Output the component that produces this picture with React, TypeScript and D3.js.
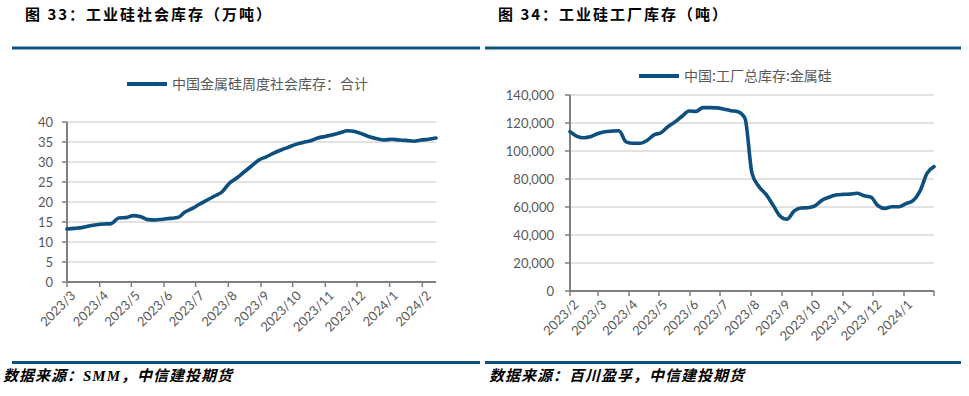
import React from "react";
import * as d3 from "d3";

// 图33 工业硅社会库存（万吨），周度，2023/3/2 起
const socialStart = new Date(2023, 2, 2);
const socialValues = [
  13.25, 13.4, 13.6, 14.0, 14.3, 14.5, 14.6, 16.0, 16.1, 16.6,
  16.3, 15.6, 15.5, 15.7, 15.9, 16.1, 17.5, 18.4, 19.5, 20.5,
  21.5, 22.5, 24.7, 26.0, 27.5, 29.0, 30.5, 31.3, 32.2, 33.0,
  33.7, 34.4, 34.9, 35.3, 36.0, 36.4, 36.8, 37.3, 37.8, 37.6,
  37.0, 36.3, 35.8, 35.5, 35.7, 35.5, 35.4, 35.2, 35.5, 35.7, 36.0,
];
const socialTicks = [0, 5, 10, 15, 20, 25, 30, 35, 40];

// 图34 工业硅工厂库存（吨），周度，2023/2/2 起
const factoryStart = new Date(2023, 1, 2);
const factoryValues = [
  113800, 110500, 109500, 110300, 112500, 113800, 114200, 114500, 106500, 105500,
  105500, 107500, 111500, 113000, 117400, 120800, 124800, 128600, 128300, 131000,
  131000, 130800, 129900, 128800, 128000, 123300, 84000, 74500, 69000, 61400,
  53600, 51200, 57000, 59300, 59500, 60800, 64800, 67000, 68500, 69000,
  69200, 69800, 68100, 67000, 60900, 59000, 60200, 60200, 62400, 64500,
  71400, 84000, 88800,
];
const factoryTicks = [0, 20000, 40000, 60000, 80000, 100000, 120000, 140000];

const BLUE = "#0D4F7E";
const GRID = "#D9D9D9";
const AXIS = "#7F7F7F";
const LABEL = "#595959";
const TICK_FONT = "Lato, 'Liberation Sans', sans-serif";
const CJK = "'Noto Sans CJK SC', sans-serif";

const weekly = (start: Date, n: number) => d3.range(n).map((i) => d3.timeDay.offset(start, i * 7));

type PanelProps = {
  title: string;
  legend: string;
  source: string;
  sourceX: number;
  values: number[];
  start: Date;
  yTicks: number[];
  yFormat: (v: number) => string;
  left: number;
  width: number;
  plot: { x0: number; x1: number; y0: number; y1: number };
  labelGap: number;
  legendPos: { x: number; y: number };
  endTick: boolean;
};

const Panel = (p: PanelProps) => {
  const dates = weekly(p.start, p.values.length);
  const x = d3.scaleTime().domain([dates[0], dates[dates.length - 1]]).range([p.plot.x0, p.plot.x1]);
  const yMax = p.yTicks[p.yTicks.length - 1];
  const y = d3.scaleLinear().domain([0, yMax]).range([p.plot.y0, p.plot.y1]);
  const line = d3
    .line<number>()
    .x((_, i) => x(dates[i]))
    .y((d) => y(d))
    .curve(d3.curveMonotoneX);
  const months = d3.range(12).map((k) => d3.timeMonth.offset(dates[0], k));
  const fmt = (d: Date) => `${d.getFullYear()}/${d.getMonth() + 1}`;

  return (
    <g>
      <text x={p.left + 13} y={20} fontFamily={CJK} fontWeight={700} fontSize={15} letterSpacing={2} fill="#000">
        {p.title}
      </text>
      <rect x={p.left} y={46.5} width={p.width} height={3} fill={BLUE} />

      {/* legend */}
      <line x1={p.legendPos.x} x2={p.legendPos.x + 40} y1={p.legendPos.y} y2={p.legendPos.y} stroke={BLUE} strokeWidth={4} />
      <text x={p.legendPos.x + 45} y={p.legendPos.y} dy="0.36em" fontFamily={CJK} fontSize={14} fill={LABEL}>
        {p.legend}
      </text>

      {/* gridlines */}
      {p.yTicks.filter((t) => t > 0).map((t) => (
        <line key={t} x1={p.plot.x0} x2={p.plot.x1} y1={y(t)} y2={y(t)} stroke={GRID} strokeWidth={1.5} />
      ))}

      {/* y axis */}
      <line x1={p.plot.x0} x2={p.plot.x0} y1={p.plot.y0} y2={p.plot.y1} stroke={AXIS} strokeWidth={2} />
      {p.yTicks.map((t) => (
        <g key={t}>
          <line x1={p.plot.x0 - 5} x2={p.plot.x0} y1={y(t)} y2={y(t)} stroke={AXIS} strokeWidth={1.5} />
          <text x={p.plot.x0 - p.labelGap} y={y(t)} dy="0.35em" textAnchor="end" fontFamily={TICK_FONT} fontSize={13} fill={LABEL}>
            {p.yFormat(t)}
          </text>
        </g>
      ))}

      {/* x axis */}
      <line x1={p.plot.x0} x2={p.plot.x1} y1={p.plot.y0} y2={p.plot.y0} stroke={AXIS} strokeWidth={2} />
      {months.map((m) => (
        <g key={m.getTime()} transform={`translate(${x(m)},${p.plot.y0})`}>
          <line y1={0} y2={5} stroke={AXIS} strokeWidth={1.5} />
          <text transform="translate(3,8) rotate(-45)" dy="0.7em" textAnchor="end" fontFamily={TICK_FONT} fontSize={13} fill={LABEL}>
            {fmt(m)}
          </text>
        </g>
      ))}
      {p.endTick && <line x1={p.plot.x1} x2={p.plot.x1} y1={p.plot.y0} y2={p.plot.y0 + 5} stroke={AXIS} strokeWidth={1.5} />}

      <path d={line(p.values) ?? ""} fill="none" stroke={BLUE} strokeWidth={3.6} strokeLinejoin="round" strokeLinecap="round" />

      <rect x={p.left} y={361} width={p.width} height={3} fill={BLUE} />
      <text x={p.sourceX} y={381} fontFamily={`'Liberation Serif', ${CJK}`} fontStyle="italic" fontWeight={700} fontSize={15} letterSpacing={1} fill="#000">
        {p.source}
      </text>
    </g>
  );
};

const App = () => {
  const comma = d3.format(",");
  return (
    <svg width={969} height={396} style={{ position: "absolute", left: 0, top: 0, background: "#fff" }}>
      <rect width={969} height={396} fill="#fff" />
      <Panel
        title="图 33：工业硅社会库存（万吨）"
        legend="中国金属硅周度社会库存：合计"
        source="数据来源：SMM，中信建投期货"
        sourceX={3}
        values={socialValues}
        start={socialStart}
        yTicks={socialTicks}
        yFormat={(v) => String(v)}
        left={12}
        width={468}
        plot={{ x0: 67, x1: 436, y0: 282, y1: 122 }}
        labelGap={14}
        legendPos={{ x: 127, y: 84 }}
        endTick={false}
      />
      <Panel
        title="图 34：工业硅工厂库存（吨）"
        legend="中国:工厂总库存:金属硅"
        source="数据来源：百川盈孚，中信建投期货"
        sourceX={489}
        values={factoryValues}
        start={factoryStart}
        yTicks={factoryTicks}
        yFormat={(v) => comma(v)}
        left={485}
        width={476}
        plot={{ x0: 570, x1: 934, y0: 291, y1: 95 }}
        labelGap={16}
        legendPos={{ x: 639, y: 76 }}
        endTick={true}
      />
    </svg>
  );
};

export default App;
